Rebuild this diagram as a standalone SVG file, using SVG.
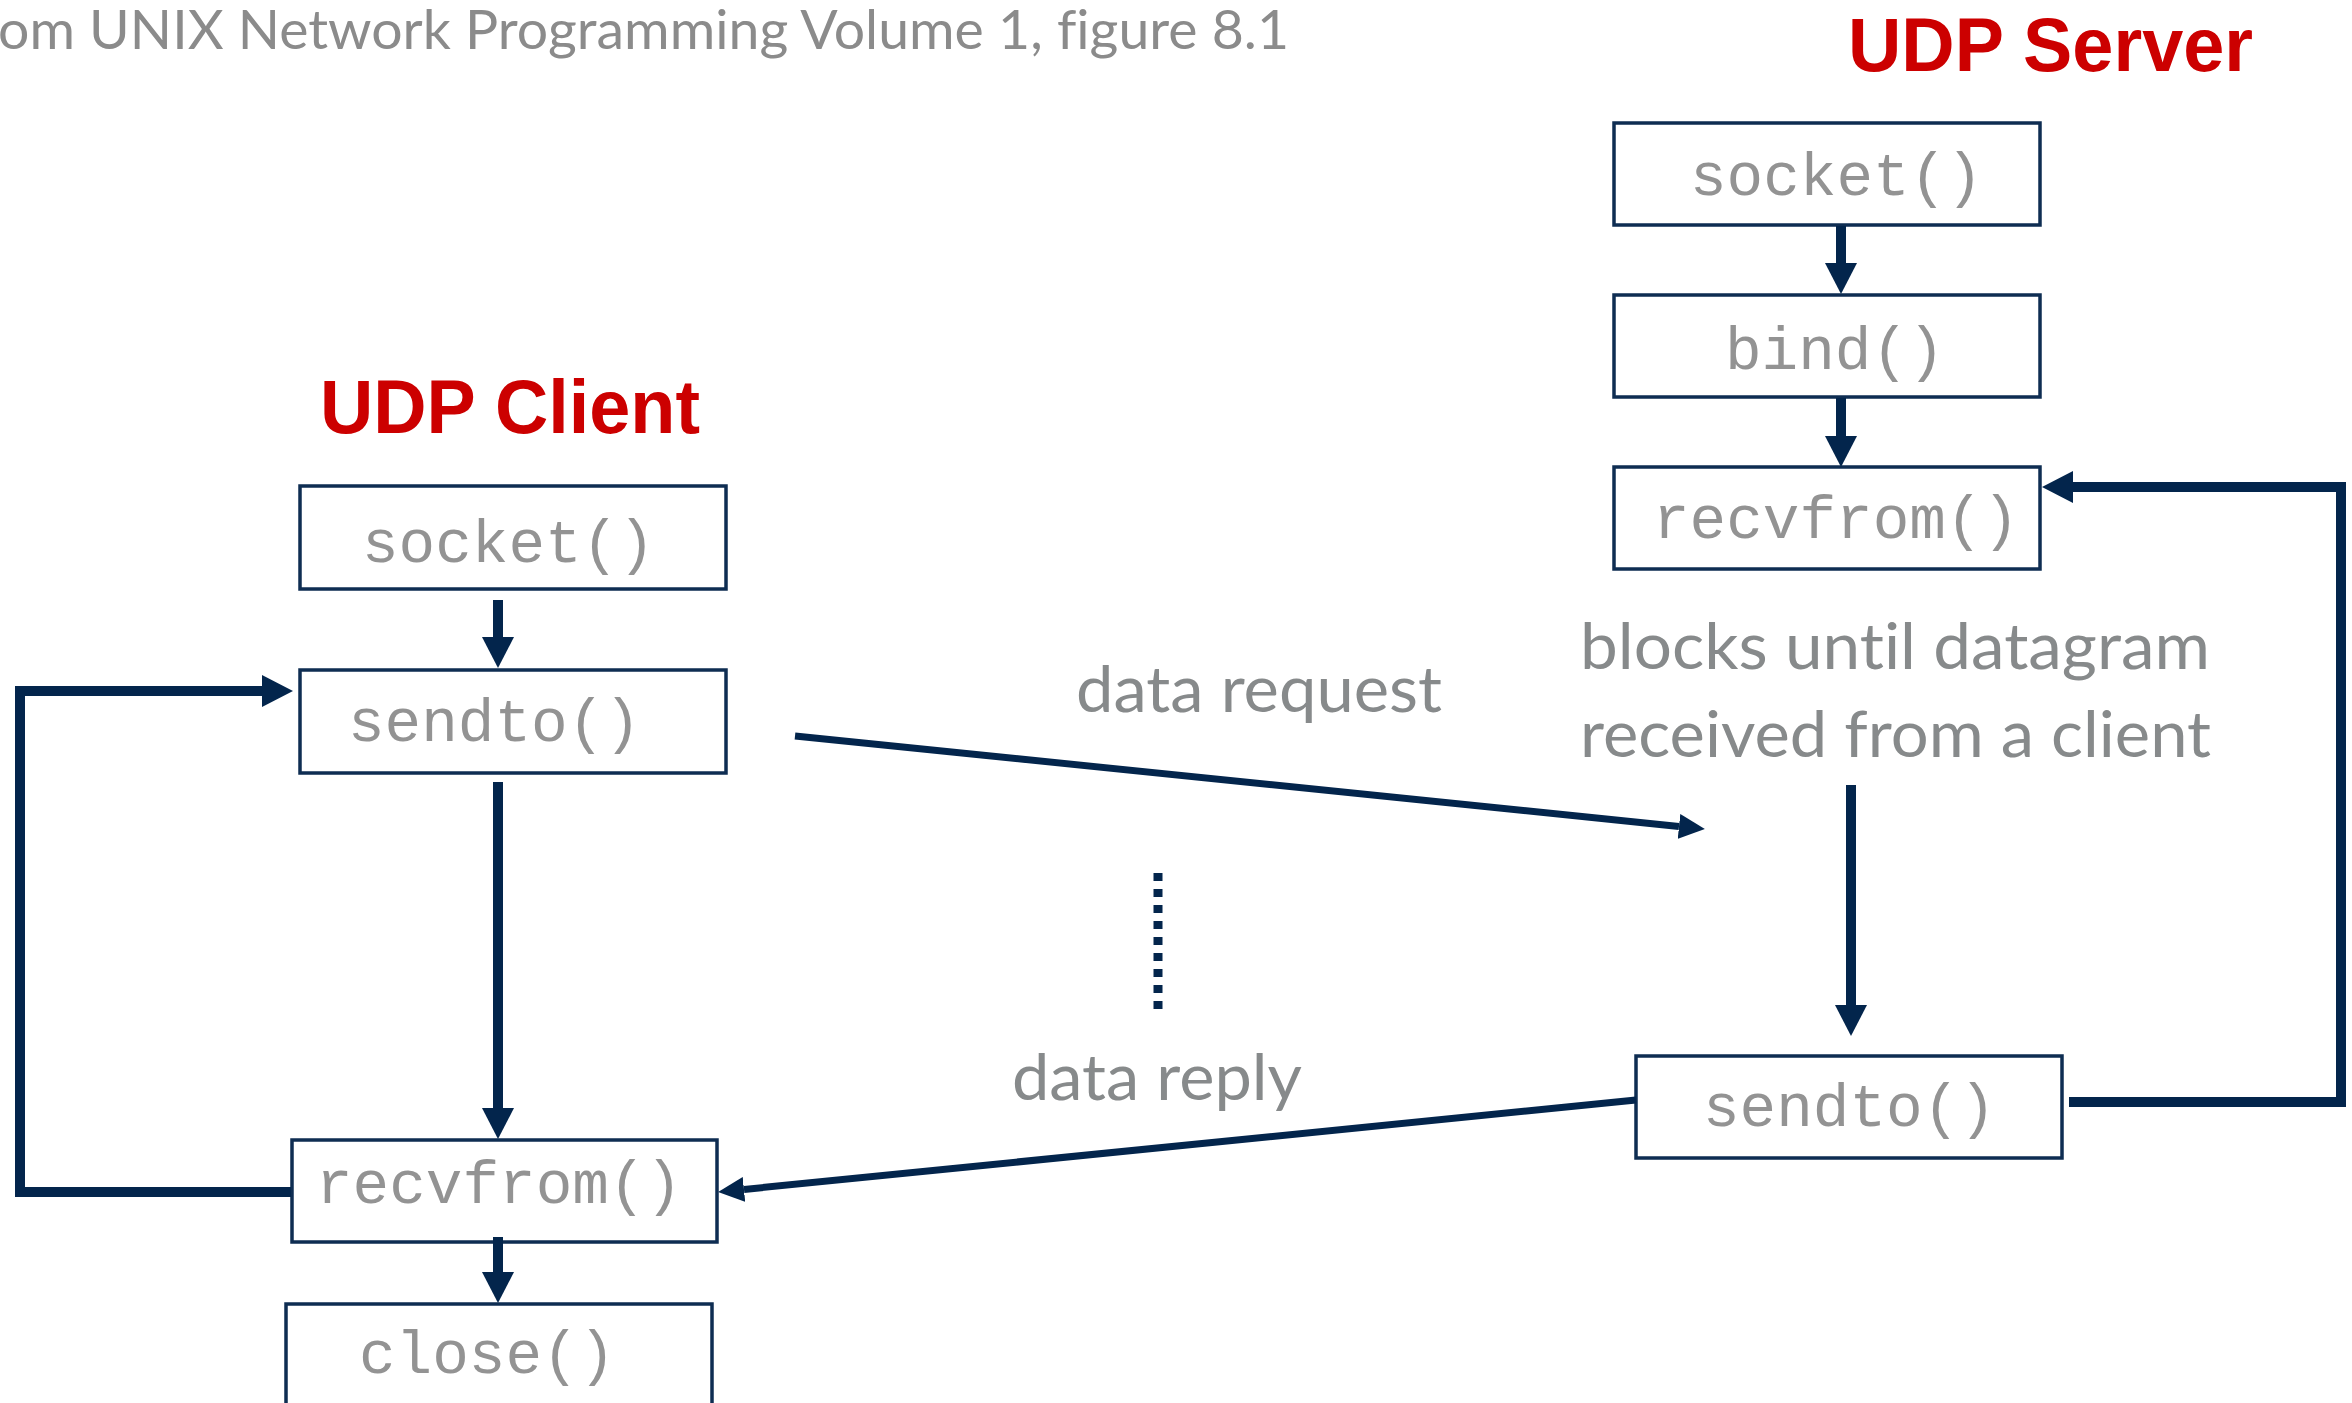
<svg xmlns="http://www.w3.org/2000/svg" width="2352" height="1403" viewBox="0 0 2352 1403">
  <defs>
    <style>
      .box { fill: #ffffff; stroke: #0e2d52; stroke-width: 3.5; }
      .fn { font-family: "Liberation Mono", "Courier New", monospace; font-size: 61px; fill: #939393; }
      .lbl { font-family: Lato, "Noto Sans", sans-serif; font-size: 64px; fill: #878a8b; font-variant-ligatures: none; }
      .title { font-family: Lato, "Noto Sans", sans-serif; font-size: 54px; fill: #8b8b8b; font-variant-ligatures: none; }
      .head { font-family: "Liberation Sans", Arial, sans-serif; font-weight: bold; font-size: 76px; fill: #cc0000; }
      .flow { fill: none; stroke: #03254c; stroke-width: 10; stroke-linejoin: miter; }
      .msg { fill: none; stroke: #03254c; stroke-width: 7; }
      .dots { fill: none; stroke: #03254c; stroke-width: 9; stroke-dasharray: 8 8; }
    </style>
    <marker id="arrow" markerUnits="userSpaceOnUse" viewBox="0 -16 31 32" refX="0" refY="0" markerWidth="31" markerHeight="32" orient="auto">
      <path d="M0,-16 L31,0 L0,16 Z" fill="#03254c"/>
    </marker>
    <marker id="arrowSm" markerUnits="userSpaceOnUse" viewBox="0 -12.5 26 25" refX="0" refY="0" markerWidth="26" markerHeight="25" orient="auto">
      <path d="M0,-12.5 L26,0 L0,12.5 Z" fill="#03254c"/>
    </marker>
  </defs>

  <rect x="0" y="0" width="2352" height="1403" fill="#ffffff"/>

  <!-- caption and column headings -->
  <text class="title" x="-2" y="49" textLength="1291" lengthAdjust="spacingAndGlyphs">om UNIX Network Programming Volume 1, figure 8.1</text>
  <text class="head" x="1848" y="71" textLength="405" lengthAdjust="spacingAndGlyphs">UDP Server</text>
  <text class="head" x="320" y="433" textLength="380" lengthAdjust="spacingAndGlyphs">UDP Client</text>

  <!-- server side -->
  <g id="srv-socket">
    <rect class="box" x="1614" y="123" width="426" height="102"/>
    <text class="fn" x="1690" y="195">socket()</text>
  </g>
  <g id="srv-bind">
    <rect class="box" x="1614" y="295" width="426" height="102"/>
    <text class="fn" x="1725" y="369">bind()</text>
  </g>
  <g id="srv-recvfrom">
    <rect class="box" x="1614" y="467" width="426" height="102"/>
    <text class="fn" x="1653" y="538">recvfrom()</text>
  </g>
  <g id="srv-sendto">
    <rect class="box" x="1636" y="1056" width="426" height="102"/>
    <text class="fn" x="1703" y="1126">sendto()</text>
  </g>

  <!-- client side -->
  <g id="cli-socket">
    <rect class="box" x="300" y="486" width="426" height="103"/>
    <text class="fn" x="362" y="562">socket()</text>
  </g>
  <g id="cli-sendto">
    <rect class="box" x="300" y="670" width="426" height="103"/>
    <text class="fn" x="348" y="741">sendto()</text>
  </g>
  <g id="cli-recvfrom">
    <rect class="box" x="292" y="1140" width="425" height="102"/>
    <text class="fn" x="316" y="1203">recvfrom()</text>
  </g>
  <g id="cli-close">
    <rect class="box" x="286" y="1304" width="426" height="130"/>
    <text class="fn" x="359" y="1373">close()</text>
  </g>

  <!-- annotations -->
  <g id="labels">
    <text class="lbl" x="1076" y="712" textLength="366" lengthAdjust="spacingAndGlyphs">data request</text>
    <text class="lbl" x="1012" y="1100" textLength="290" lengthAdjust="spacingAndGlyphs">data reply</text>
    <text class="lbl" x="1580" y="669" textLength="630" lengthAdjust="spacingAndGlyphs">blocks until datagram</text>
    <text class="lbl" x="1580" y="757" textLength="631" lengthAdjust="spacingAndGlyphs">received from a client</text>
  </g>

  <!-- connectors -->
  <g id="connectors">
    <path class="flow" d="M1841,226 V263" marker-end="url(#arrow)"/>
    <path class="flow" d="M1841,398 V436" marker-end="url(#arrow)"/>
    <path class="flow" d="M1851,785 V1005" marker-end="url(#arrow)"/>
    <path class="flow" d="M2069,1102 H2341 V487 H2073" marker-end="url(#arrow)"/>

    <path class="flow" d="M498,600 V637" marker-end="url(#arrow)"/>
    <path class="flow" d="M498,782 V1108" marker-end="url(#arrow)"/>
    <path class="flow" d="M498,1237 V1272" marker-end="url(#arrow)"/>
    <path class="flow" d="M291,1192 H20 V691 H262" marker-end="url(#arrow)"/>

    <path class="msg" d="M795,736 L1679,826.4" marker-end="url(#arrowSm)"/>
    <path class="msg" d="M1636,1100 L744,1189.4" marker-end="url(#arrowSm)"/>

    <path class="dots" d="M1158,873 V1017"/>
  </g>
</svg>
